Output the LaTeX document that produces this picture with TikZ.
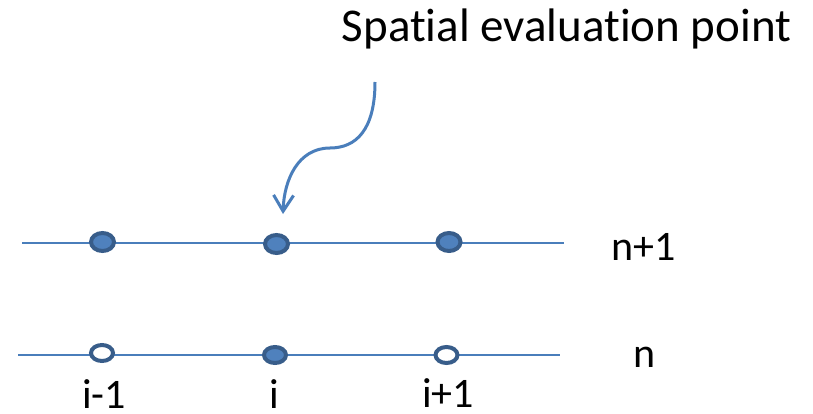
\documentclass[tikz,border=0pt]{standalone}
\usepackage{fontspec}
\setmainfont{Carlito}[Ligatures={NoCommon,NoRare,NoContextual}]
\usetikzlibrary{shapes.geometric,arrows.meta}
\definecolor{dotfill}{HTML}{4F81BD}
\definecolor{dotline}{HTML}{385D8A}
\definecolor{axisline}{HTML}{4A7EBB}
\tikzset{
  gridline/.style={draw=axisline,line width=2.5pt},
  fulldot/.style={ellipse,draw=dotline,fill=dotfill,line width=4pt,minimum width=23pt,minimum height=18pt,inner sep=0pt},
  opendot/.style={ellipse,draw=dotline,fill=white,line width=4pt,minimum width=22pt,minimum height=16pt,inner sep=0pt},
  lbl/.style={anchor=base,inner sep=0pt,font=\fontsize{42}{50}\selectfont},
  title/.style={anchor=base,inner sep=0pt,font=\fontsize{47}{56}\selectfont},
  pointer/.style={draw=axisline,line width=3pt,-{Straight Barb[length=16pt,width=20pt]}}
}
\begin{document}
\begin{tikzpicture}[x=1pt,y=-1pt]
\useasboundingbox (0,0) rectangle (813,414);
% lines
\coordinate (tl) at (22,243);
\coordinate (tr) at (564,243);
\coordinate (bl) at (18,355);
\coordinate (br) at (560,355);
\draw[gridline] (tl) -- (tr);
\draw[gridline] (bl) -- (br);
% top dots
\node[fulldot] (t1) at (102.5,242) {};
\node[fulldot] (t2) at (276.5,244) {};
\node[fulldot] (t3) at (449,242) {};
% bottom dots
\node[opendot] (b1) at (102,353) {};
\node[fulldot,minimum width=22pt,minimum height=16pt] (b2) at (275,355) {};
\node[opendot] (b3) at (446.5,355) {};
% labels
\node[title] (ttl) at (566.5,42) {Spat\kern0pt ial evaluat\kern0pt ion point};
\node[lbl] (lnp) at (644,260) {n+1};
\node[lbl] (ln) at (645,367) {n};
\node[lbl] (lim) at (104,408) {i-1};
\node[lbl] (li) at (274,408) {i};
\node[lbl] (lip) at (448,407) {i+1};
% arrow
\coordinate (as) at (375,82);
\coordinate (at) at (283,214);
\draw[pointer] (as) .. controls (375,130) and (356,148) .. (330,148) .. controls (298,148) and (284,180) .. (at);
\end{tikzpicture}
\end{document}
